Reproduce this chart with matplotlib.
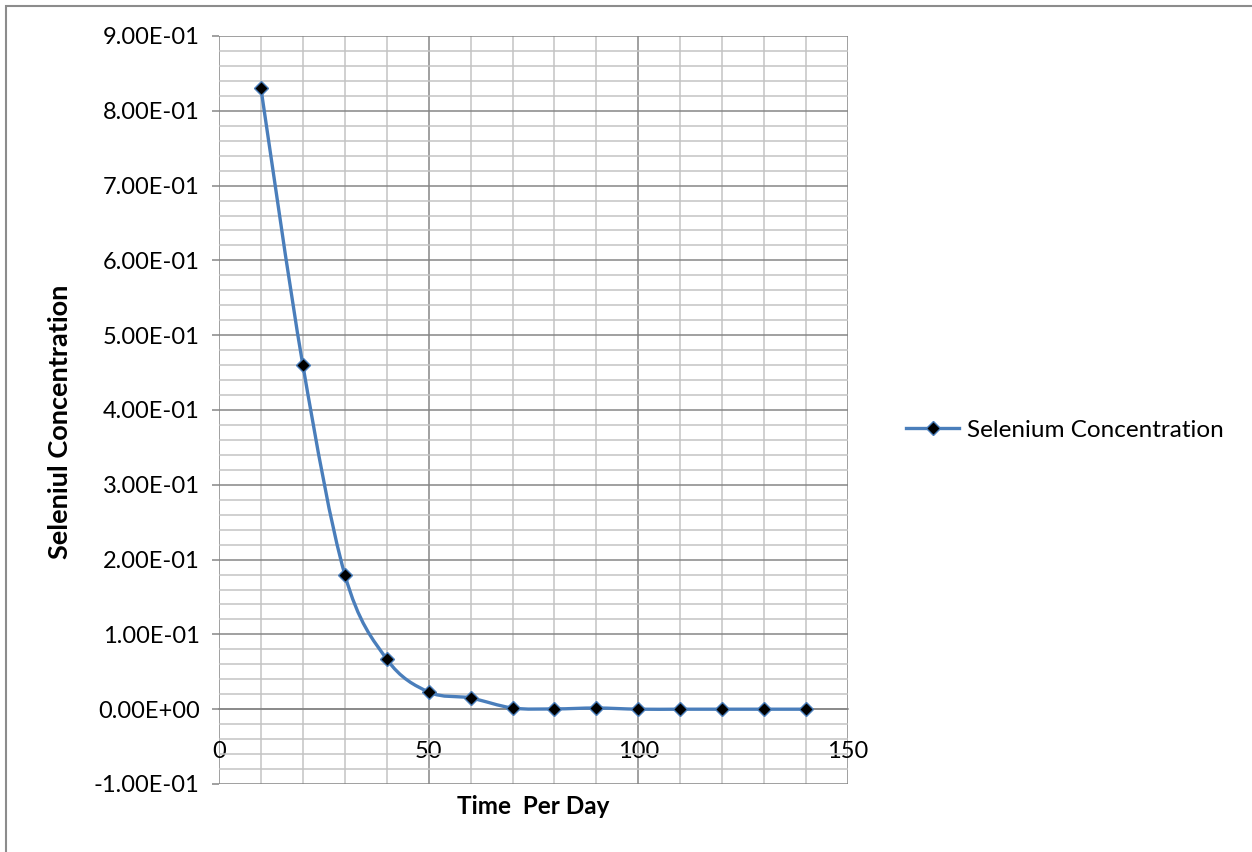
import matplotlib
matplotlib.use('Agg')
import matplotlib.pyplot as plt
from matplotlib.path import Path
from matplotlib.patches import PathPatch, Rectangle
from matplotlib.lines import Line2D
from matplotlib.ticker import MultipleLocator
import numpy as np

# 数据
days = [10, 20, 30, 40, 50, 60, 70, 80, 90, 100, 110, 120, 130, 140]
selenium = [0.83, 0.46, 0.18, 0.067, 0.023, 0.015, 0.0016, 0.0004, 0.0016,
            0.0, 0.0, 0.0, 0.0, 0.0]

x_label = 'Time  Per Day'
y_label = 'Seleniul Concentration'
series_name = 'Selenium Concentration'

plt.rcParams['font.family'] = ['Lato', 'DejaVu Sans']

line_color = '#4A7EBB'
major_grid = '#868686'
minor_grid = '#c3c3c3'

fig = plt.figure(figsize=(12.52, 8.52), dpi=100)
ax = fig.add_axes([219 / 1252, 1 - 784 / 852, 629 / 1252, 748 / 852])

ax.set_xlim(0, 150)
ax.set_ylim(-0.1, 0.9)
ax.xaxis.set_major_locator(MultipleLocator(50))
ax.xaxis.set_minor_locator(MultipleLocator(10))
ax.yaxis.set_major_locator(MultipleLocator(0.1))
ax.yaxis.set_minor_locator(MultipleLocator(0.02))

def sci_fmt(v, pos):
    if abs(v) < 1e-12:
        return '0.00E+00'
    return '%.2E' % v

ax.yaxis.set_major_formatter(plt.FuncFormatter(sci_fmt))
ax.grid(which='major', color=major_grid, linewidth=1.1, zorder=0)
ax.grid(which='minor', color=minor_grid, linewidth=1.1, zorder=0)
ax.set_axisbelow(True)

for s in ['top', 'right', 'left']:
    ax.spines[s].set_visible(False)
ax.spines['bottom'].set_position(('data', 0))
ax.spines['bottom'].set_color(major_grid)
ax.spines['bottom'].set_linewidth(1.1)

ax.tick_params(axis='y', which='major', length=5, width=1.1, color=major_grid,
               labelsize=17, pad=9)
ax.tick_params(axis='y', which='minor', length=0)
ax.tick_params(axis='x', which='both', length=0, labelsize=17, pad=23)

# 平滑曲线（Excel 风格的 Bezier）
pts = np.column_stack([days, selenium])
n = len(pts)
verts = [pts[0]]
codes = [Path.MOVETO]
for i in range(n - 1):
    p0 = pts[i - 1] if i > 0 else pts[i]
    p1 = pts[i]
    p2 = pts[i + 1]
    p3 = pts[i + 2] if i + 2 < n else pts[i + 1]
    c1 = p1 + (p2 - p0) / 6.0
    c2 = p2 - (p3 - p1) / 6.0
    verts += [c1, c2, p2]
    codes += [Path.CURVE4] * 3
ax.add_patch(PathPatch(Path(verts, codes), facecolor='none',
                       edgecolor=line_color, linewidth=2.4, zorder=3,
                       clip_on=False))

ax.plot(days, selenium, linestyle='none', marker='D', markersize=7.5,
        markerfacecolor='black', markeredgecolor=line_color,
        markeredgewidth=1.0, zorder=4, clip_on=False)

fig.text(533 / 1252, 1 - 806 / 852, x_label, ha='center', va='center',
         fontsize=17.5, fontweight='bold')
fig.text(60 / 1252, 1 - 422 / 852, y_label, ha='center', va='center',
         rotation=90, fontsize=19.5, fontweight='bold')

handle = Line2D([], [], color=line_color, linewidth=2.4, marker='D',
                markersize=7.5, markerfacecolor='black',
                markeredgecolor=line_color, markeredgewidth=1.0)
fig.legend([handle], [series_name], loc='center left',
           bbox_to_anchor=(884 / 1252, 1 - 430 / 852), frameon=False,
           fontsize=17.5, handlelength=2.2, handletextpad=0.3)

# 外框
fig.patches.append(Rectangle((6 / 1252, -0.05), 1.2, 1 - 6 / 852 + 0.05,
                             transform=fig.transFigure, fill=False,
                             edgecolor='#8c8c8c', linewidth=1.5))

fig.savefig('out.png', dpi=100)
